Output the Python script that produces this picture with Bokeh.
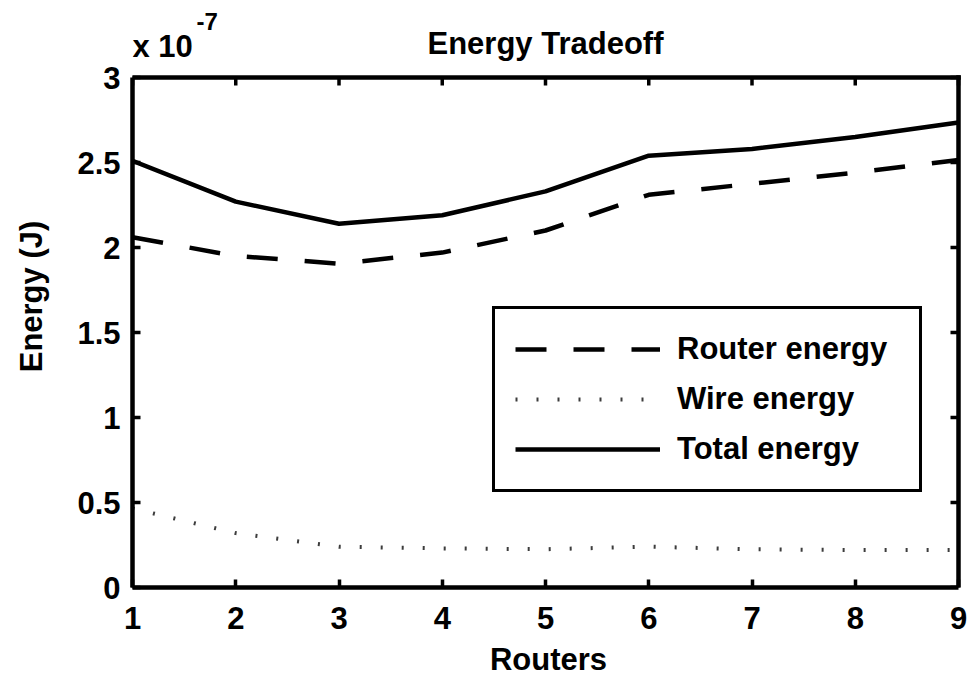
from bokeh.plotting import figure
from bokeh.models import Range1d, FixedTicker, Legend, LegendItem, Label
from bokeh.embed import file_html
from bokeh.resources import INLINE

# Data (energy in units of 1e-7 J)
routers = [1, 2, 3, 4, 5, 6, 7, 8, 9]
router_energy = [2.06, 1.95, 1.905, 1.97, 2.10, 2.31, 2.375, 2.44, 2.515]
wire_energy = [0.465, 0.32, 0.24, 0.23, 0.225, 0.24, 0.225, 0.22, 0.22]
total_energy = [2.51, 2.27, 2.14, 2.19, 2.33, 2.54, 2.58, 2.65, 2.735]

x_ticks = [1, 2, 3, 4, 5, 6, 7, 8, 9]
y_ticks = [0, 0.5, 1, 1.5, 2, 2.5, 3]
y_tick_labels = ["0", "0.5", "1", "1.5", "2", "2.5", "3"]

title_text = "Energy Tradeoff"
exp_base = "x 10"
exp_power = "-7"

FONT = "Liberation Sans"
FS = "31px"
W, H = 970, 680

# layout (pixels on the canvas)
FRAME_TOP = 5      # plotting frame extends above the axes box so that the header texts are not clipped
AXIS_TOP = 77      # where y = 3 lies
AXIS_BOTTOM = 587  # where y = 0 lies
AXIS_LEFT = 132    # where x = 1 lies
AXIS_RIGHT = 958   # where x = 9 lies
FRAME_RIGHT = 964  # frame extends a little to the right so the box edge is not clipped
y_lo, y_hi = y_ticks[0], y_ticks[-1]
x_lo, x_hi = x_ticks[0], x_ticks[-1]
px_per_unit = (AXIS_BOTTOM - AXIS_TOP) / (y_hi - y_lo)
x_per_px = (x_hi - x_lo) / (AXIS_RIGHT - AXIS_LEFT)
y_end = y_lo + (AXIS_BOTTOM - FRAME_TOP) / px_per_unit
x_end = x_hi + (FRAME_RIGHT - AXIS_RIGHT) * x_per_px

p = figure(width=W, height=H, output_backend="svg", toolbar_location=None,
           x_range=Range1d(x_lo, x_end), y_range=Range1d(y_lo, y_end),
           min_border_left=AXIS_LEFT, min_border_right=W - FRAME_RIGHT,
           min_border_top=FRAME_TOP, min_border_bottom=H - AXIS_BOTTOM)
p.xgrid.visible = False
p.ygrid.visible = False
p.background_fill_color = "white"
p.border_fill_color = "white"
p.outline_line_color = None

def style_axis(ax):
    ax.axis_line_width = 4.5
    ax.axis_line_color = "black"
    ax.major_tick_in = 8
    ax.major_tick_out = 0
    ax.major_tick_line_width = 3.5
    ax.major_tick_line_color = "black"
    ax.minor_tick_line_color = None
    ax.major_label_text_font = FONT
    ax.major_label_text_font_style = "bold"
    ax.major_label_text_color = "black"
    ax.major_label_text_font_size = FS
    ax.axis_label_text_font = FONT
    ax.axis_label_text_font_size = FS
    ax.axis_label_text_font_style = "bold"
    ax.axis_label_text_color = "black"

xa = p.xaxis[0]
ya = p.yaxis[0]
xa.ticker = FixedTicker(ticks=x_ticks)
ya.ticker = FixedTicker(ticks=y_ticks)
xa.bounds = (x_lo, x_hi)
ya.bounds = (y_lo, y_hi)
ya.major_label_overrides = {t: s for t, s in zip(y_ticks, y_tick_labels)}
style_axis(xa)
style_axis(ya)
xa.major_label_standoff = 19
ya.major_label_standoff = 12
xa.axis_label = "Routers"
ya.axis_label = "Energy (J)"
xa.axis_label_standoff = 10
ya.axis_label_standoff = 25

# top and right edges of the axes box, with inward ticks
tick_y = 8 / px_per_unit
tick_x = 8 * x_per_px
p.line([x_lo, x_hi], [y_hi, y_hi], line_color="black", line_width=4.5, line_cap="square")
p.line([x_hi, x_hi], [y_lo, y_hi], line_color="black", line_width=4.5, line_cap="square")
p.segment(x0=x_ticks, y0=[y_hi] * len(x_ticks), x1=x_ticks,
          y1=[y_hi - tick_y] * len(x_ticks), line_color="black", line_width=3.5)
p.segment(x0=[x_hi] * len(y_ticks), y0=y_ticks, x1=[x_hi - tick_x] * len(y_ticks),
          y1=y_ticks, line_color="black", line_width=3.5)

r_router = p.line(routers, router_energy, line_color="black", line_width=4.5, line_dash="31 27")
r_wire = p.line(routers, wire_energy, line_color="#3c3c3c", line_width=4, line_dash="2 19")
r_total = p.line(routers, total_energy, line_color="black", line_width=4.5)

legend = Legend(items=[LegendItem(label="Router energy", renderers=[r_router]),
                       LegendItem(label="Wire energy", renderers=[r_wire]),
                       LegendItem(label="Total energy", renderers=[r_total])],
                location=(360, 95), padding=20, margin=0, spacing=10,
                glyph_width=145, glyph_height=40, label_height=40, label_width=222,
                label_standoff=17, label_text_font=FONT, label_text_font_size=FS,
                label_text_font_style="bold", label_text_color="black",
                border_line_color="black", border_line_alpha=1, border_line_width=3,
                background_fill_alpha=1)
p.add_layout(legend)

# header texts (title and the axis multiplier), placed above the box
x_mid = (x_lo + x_hi) / 2
p.add_layout(Label(x=x_mid, y=y_hi + 34 / px_per_unit, text=title_text, text_align="center",
                   text_font=FONT, text_font_size=FS, text_font_style="bold",
                   text_baseline="alphabetic", text_color="black"))
p.add_layout(Label(x=x_lo, y=y_hi + 31 / px_per_unit, text=exp_base,
                   text_font=FONT, text_font_size=FS, text_font_style="bold",
                   text_baseline="alphabetic", text_color="black"))
p.add_layout(Label(x=x_lo + 64 * x_per_px, y=y_hi + 56 / px_per_unit, text=exp_power,
                   text_font=FONT, text_font_size="24px", text_font_style="bold",
                   text_baseline="alphabetic", text_color="black"))

open("out.html", "w").write(file_html(p, INLINE))
